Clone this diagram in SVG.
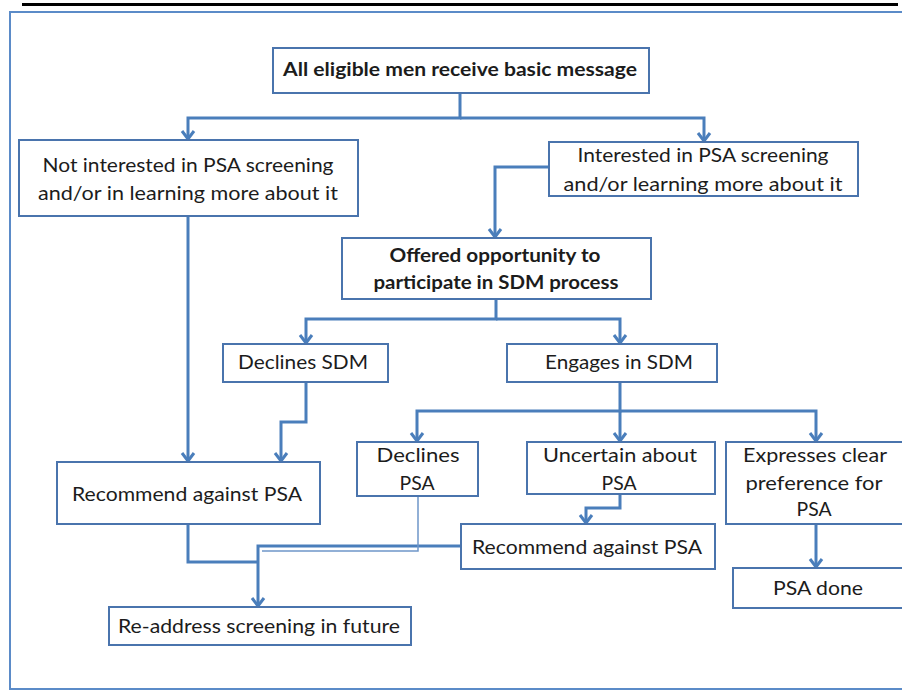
<svg xmlns="http://www.w3.org/2000/svg" width="902" height="690" viewBox="0 0 902 690">
<style>
.box{fill:#fff;stroke:#4a74ad;stroke-width:2}
.t{font-family:Lato,"Open Sans","Liberation Sans",sans-serif;font-size:20px;fill:#1c1c1c;text-anchor:middle}
.b{font-weight:bold;font-size:18px}
.c{fill:none;stroke:#4a7ebb;stroke-width:3}
.thin{fill:none;stroke:#6f97c9;stroke-width:1.5}
</style>
<defs>
<marker id="ah" markerUnits="userSpaceOnUse" markerWidth="14" markerHeight="14" refX="9" refY="7" orient="auto" overflow="visible">
<path d="M1,1 L9,7 L1,13" fill="none" stroke="#4a7ebb" stroke-width="3"/>
</marker>
</defs>
<rect x="0" y="0" width="902" height="690" fill="#fff"/>
<rect x="22" y="3" width="876" height="3" fill="#000"/>
<rect x="10" y="12" width="900" height="677" fill="none" stroke="#5b8bc8" stroke-width="2"/>

<g id="connectors">
<path class="c" d="M460,93 V118 H188 V139" marker-end="url(#ah)"/>
<path class="c" d="M460,118 H704 V141" marker-end="url(#ah)"/>
<path class="c" d="M549,167 H495 V237" marker-end="url(#ah)"/>
<path class="c" d="M496,299 V319 H306 V343" marker-end="url(#ah)"/>
<path class="c" d="M496,319 H620 V343" marker-end="url(#ah)"/>
<path class="c" d="M188,216 V461" marker-end="url(#ah)"/>
<path class="c" d="M306,382 V422 H281 V461" marker-end="url(#ah)"/>
<path class="c" d="M620,382 V411 H417 V441" marker-end="url(#ah)"/>
<path class="c" d="M620,411 V441" marker-end="url(#ah)"/>
<path class="c" d="M620,411 H816 V441" marker-end="url(#ah)"/>
<path class="c" d="M620,494 V508 H586 V523" marker-end="url(#ah)"/>
<path class="c" d="M816,524 V567" marker-end="url(#ah)"/>
<path class="c" d="M188,524 V562 H258"/>
<path class="c" d="M461,546 H258 V606" marker-end="url(#ah)"/>
<path class="thin" d="M418,496 V551 H262"/>
</g>

<g id="n-all">
<rect class="box" x="273" y="48" width="376" height="45"/>
<text class="t b" x="460" y="76" textLength="354" lengthAdjust="spacingAndGlyphs">All eligible men receive basic message</text>
</g>
<g id="n-notint">
<rect class="box" x="19" y="140" width="339" height="76"/>
<text class="t" x="188" y="172" textLength="291" lengthAdjust="spacingAndGlyphs">Not interested in PSA screening</text>
<text class="t" x="188" y="200" textLength="300" lengthAdjust="spacingAndGlyphs">and/or in learning more about it</text>
</g>
<g id="n-int">
<rect class="box" x="549" y="142" width="309" height="54"/>
<text class="t" x="703" y="162" textLength="251" lengthAdjust="spacingAndGlyphs">Interested in PSA screening</text>
<text class="t" x="703" y="191" textLength="279" lengthAdjust="spacingAndGlyphs">and/or learning more about it</text>
</g>
<g id="n-offered">
<rect class="box" x="342" y="238" width="309" height="61"/>
<text class="t b" x="495" y="262" textLength="211" lengthAdjust="spacingAndGlyphs">Offered opportunity to</text>
<text class="t b" x="496" y="289" textLength="245" lengthAdjust="spacingAndGlyphs">participate in SDM process</text>
</g>
<g id="n-declsdm">
<rect class="box" x="223" y="344" width="165" height="38"/>
<text class="t" x="303" y="369" textLength="130" lengthAdjust="spacingAndGlyphs">Declines SDM</text>
</g>
<g id="n-engsdm">
<rect class="box" x="507" y="344" width="210" height="38"/>
<text class="t" x="619" y="369" textLength="148" lengthAdjust="spacingAndGlyphs">Engages in SDM</text>
</g>
<g id="n-rec1">
<rect class="box" x="57" y="462" width="263" height="62"/>
<text class="t" x="187" y="501" textLength="230" lengthAdjust="spacingAndGlyphs">Recommend against PSA</text>
</g>
<g id="n-declpsa">
<rect class="box" x="357" y="442" width="121" height="54"/>
<text class="t" x="418" y="462" textLength="83" lengthAdjust="spacingAndGlyphs">Declines</text>
<text class="t" x="417" y="490" textLength="35" lengthAdjust="spacingAndGlyphs">PSA</text>
</g>
<g id="n-uncertain">
<rect class="box" x="527" y="442" width="188" height="52"/>
<text class="t" x="620" y="462" textLength="154" lengthAdjust="spacingAndGlyphs">Uncertain about</text>
<text class="t" x="619" y="490" textLength="35" lengthAdjust="spacingAndGlyphs">PSA</text>
</g>
<g id="n-express">
<rect class="box" x="726" y="442" width="180" height="82"/>
<text class="t" x="815" y="462" textLength="144" lengthAdjust="spacingAndGlyphs">Expresses clear</text>
<text class="t" x="814" y="490" textLength="137" lengthAdjust="spacingAndGlyphs">preference for</text>
<text class="t" x="814" y="516" textLength="35" lengthAdjust="spacingAndGlyphs">PSA</text>
</g>
<g id="n-rec2">
<rect class="box" x="461" y="524" width="254" height="45"/>
<text class="t" x="587" y="554" textLength="230" lengthAdjust="spacingAndGlyphs">Recommend against PSA</text>
</g>
<g id="n-psadone">
<rect class="box" x="733" y="568" width="180" height="40"/>
<text class="t" x="818" y="595" textLength="90" lengthAdjust="spacingAndGlyphs">PSA done</text>
</g>
<g id="n-readdress">
<rect class="box" x="109" y="607" width="302" height="38"/>
<text class="t" x="259" y="633" textLength="282" lengthAdjust="spacingAndGlyphs">Re-address screening in future</text>
</g>
</svg>
